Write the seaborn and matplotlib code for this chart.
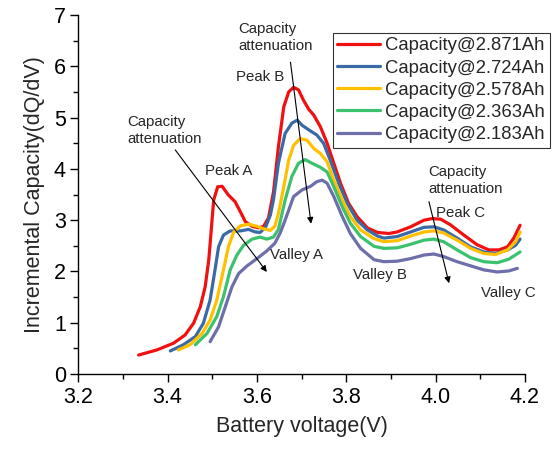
import numpy as np
import pandas as pd
import matplotlib
matplotlib.use("Agg")
import matplotlib.pyplot as plt
import seaborn as sns
from matplotlib.ticker import MultipleLocator
from matplotlib.lines import Line2D

# ---- data ----
labels = ["Capacity@2.871Ah", "Capacity@2.724Ah", "Capacity@2.578Ah",
          "Capacity@2.363Ah", "Capacity@2.183Ah"]
colors = ["#F01010", "#3A6AA6", "#FFC000", "#3CC26E", "#6E6EAA"]

v_red = [3.335, 3.376, 3.413, 3.439, 3.458, 3.473, 3.484, 3.492, 3.497, 3.503, 3.512, 3.522,
         3.536, 3.551, 3.563, 3.574, 3.589, 3.604, 3.615, 3.626, 3.637, 3.648, 3.660, 3.671,
         3.682, 3.693, 3.704, 3.716, 3.727, 3.742, 3.757, 3.772, 3.787, 3.805, 3.824, 3.847,
         3.870, 3.895, 3.914, 3.944, 3.974, 3.992, 4.011, 4.033, 4.063, 4.093, 4.119, 4.142,
         4.161, 4.175, 4.189]
y_red = [0.37, 0.47, 0.60, 0.76, 0.99, 1.31, 1.70, 2.22, 2.74, 3.39, 3.65, 3.66,
         3.49, 3.36, 3.16, 2.97, 2.88, 2.85, 2.88, 3.05, 3.55, 4.43, 5.21, 5.50,
         5.59, 5.54, 5.34, 5.16, 5.05, 4.82, 4.50, 4.11, 3.72, 3.33, 3.07, 2.85,
         2.76, 2.74, 2.77, 2.87, 3.00, 3.03, 3.02, 2.91, 2.71, 2.52, 2.42, 2.42,
         2.48, 2.65, 2.90]

v_blue = [3.406, 3.435, 3.462, 3.480, 3.495, 3.506, 3.514, 3.525, 3.540, 3.563, 3.581, 3.596,
          3.607, 3.619, 3.630, 3.637, 3.648, 3.663, 3.678, 3.690, 3.701, 3.716, 3.734, 3.749,
          3.764, 3.783, 3.802, 3.824, 3.847, 3.870, 3.884, 3.914, 3.944, 3.974, 3.996, 4.018,
          4.048, 4.078, 4.108, 4.134, 4.161, 4.179, 4.189]
y_blue = [0.45, 0.57, 0.73, 0.99, 1.44, 2.03, 2.48, 2.71, 2.79, 2.79, 2.82, 2.77,
          2.76, 2.86, 3.10, 3.40, 4.11, 4.69, 4.89, 4.95, 4.85, 4.76, 4.66, 4.50,
          4.17, 3.72, 3.33, 3.00, 2.81, 2.69, 2.65, 2.68, 2.77, 2.86, 2.87, 2.81,
          2.65, 2.48, 2.38, 2.35, 2.42, 2.51, 2.63]

v_yellow = [3.424, 3.450, 3.477, 3.495, 3.510, 3.525, 3.536, 3.548, 3.563, 3.581, 3.600, 3.615,
            3.630, 3.640, 3.648, 3.660, 3.671, 3.682, 3.697, 3.712, 3.727, 3.742, 3.757, 3.772,
            3.791, 3.809, 3.832, 3.862, 3.884, 3.914, 3.944, 3.974, 3.996, 4.018, 4.048, 4.078,
            4.108, 4.134, 4.161, 4.179, 4.189]
y_yellow = [0.47, 0.57, 0.79, 1.05, 1.44, 2.03, 2.48, 2.77, 2.89, 2.92, 2.88, 2.83,
            2.80, 2.88, 3.13, 3.65, 4.17, 4.46, 4.59, 4.56, 4.40, 4.30, 4.14, 3.78,
            3.39, 3.07, 2.81, 2.64, 2.58, 2.60, 2.69, 2.77, 2.79, 2.75, 2.61, 2.45,
            2.35, 2.33, 2.42, 2.58, 2.77]

v_green = [3.462, 3.488, 3.510, 3.525, 3.540, 3.555, 3.570, 3.589, 3.607, 3.622, 3.637, 3.648,
           3.663, 3.678, 3.693, 3.708, 3.723, 3.742, 3.757, 3.772, 3.791, 3.809, 3.832, 3.862,
           3.884, 3.914, 3.944, 3.974, 3.996, 4.018, 4.048, 4.078, 4.108, 4.138, 4.164, 4.189]
y_green = [0.57, 0.79, 1.12, 1.51, 2.03, 2.32, 2.51, 2.63, 2.67, 2.63, 2.67, 2.82,
           3.39, 3.85, 4.11, 4.18, 4.11, 4.03, 3.94, 3.65, 3.26, 2.94, 2.68, 2.49,
           2.45, 2.46, 2.53, 2.61, 2.63, 2.58, 2.42, 2.27, 2.19, 2.17, 2.24, 2.38]

v_purple = [3.495, 3.514, 3.529, 3.544, 3.559, 3.578, 3.600, 3.622, 3.640, 3.652, 3.663, 3.682,
            3.701, 3.720, 3.734, 3.746, 3.757, 3.772, 3.791, 3.809, 3.832, 3.862, 3.884, 3.914,
            3.944, 3.974, 3.996, 4.018, 4.048, 4.078, 4.108, 4.138, 4.164, 4.183]
y_purple = [0.63, 0.92, 1.31, 1.70, 1.96, 2.11, 2.25, 2.40, 2.55, 2.75, 3.00, 3.46,
            3.59, 3.66, 3.75, 3.78, 3.72, 3.46, 3.07, 2.74, 2.45, 2.23, 2.19, 2.20,
            2.25, 2.32, 2.34, 2.29, 2.19, 2.11, 2.03, 1.99, 2.01, 2.06]

xs = [v_red, v_blue, v_yellow, v_green, v_purple]
ys = [y_red, y_blue, y_yellow, y_green, y_purple]

frames = []
for lab, vv, yy in zip(labels, xs, ys):
    frames.append(pd.DataFrame({"V": vv, "IC": yy, "series": lab}))
df = pd.concat(frames, ignore_index=True)

# ---- style ----
sns.set_style("ticks")
plt.rcParams["font.family"] = ["Liberation Sans", "DejaVu Sans"]

fig = plt.figure(figsize=(5.57, 4.49), dpi=100)
ax = fig.add_axes([0.1406, 0.167, 0.8019, 0.7996])

sns.lineplot(data=df, x="V", y="IC", hue="series", hue_order=labels,
             palette=colors, sort=False, estimator=None, units="series",
             linewidth=2.3, ax=ax, legend=False)
for ln in ax.get_lines():
    ln.set_solid_joinstyle("round")
    ln.set_solid_capstyle("round")

ax.set_xlim(3.2, 4.2)
ax.set_ylim(0, 7)
ax.xaxis.set_major_locator(MultipleLocator(0.2))
ax.xaxis.set_minor_locator(MultipleLocator(0.1))
ax.yaxis.set_major_locator(MultipleLocator(1))
ax.yaxis.set_minor_locator(MultipleLocator(0.5))
ax.set_xticklabels([f"{t:.1f}" for t in ax.get_xticks()])
ax.tick_params(axis="both", which="major", direction="out", length=6, width=1,
               labelsize=15.5, pad=3, colors="black")
ax.tick_params(axis="both", which="minor", direction="out", length=3.5, width=1, colors="black")
for s in ["top", "right"]:
    ax.spines[s].set_visible(False)
for s in ["left", "bottom"]:
    ax.spines[s].set_linewidth(1)
    ax.spines[s].set_color("black")

ax.set_xlabel("Battery voltage(V)", fontsize=15.5, labelpad=6)
ax.set_ylabel("Incremental Capacity(dQ/dV)", fontsize=15.5, labelpad=6)

# legend
handles = [Line2D([0], [0], color=c, lw=2.3) for c in colors]
leg = fig.legend(handles, labels, loc="upper right", bbox_to_anchor=(0.987, 0.927),
                 fontsize=13.3, frameon=True, fancybox=False, edgecolor="black",
                 handlelength=2.3, handletextpad=0.3, labelspacing=0.28,
                 borderpad=0.25, borderaxespad=0.0)
leg.get_frame().set_linewidth(0.8)

# annotations
afs = 10.8
ax.text(3.558, 6.86, "Capacity\nattenuation", fontsize=afs, ha="left", va="top", linespacing=1.25)
ax.text(3.309, 5.05, "Capacity\nattenuation", fontsize=afs, ha="left", va="top", linespacing=1.25)
ax.text(3.984, 4.07, "Capacity\nattenuation", fontsize=afs, ha="left", va="top", linespacing=1.25)
ax.text(3.607, 5.79, "Peak B", fontsize=afs, ha="center", va="center")
ax.text(3.536, 3.96, "Peak A", fontsize=afs, ha="center", va="center")
ax.text(3.688, 2.32, "Valley A", fontsize=afs, ha="center", va="center")
ax.text(4.056, 3.14, "Peak C", fontsize=afs, ha="center", va="center")
ax.text(3.876, 1.93, "Valley B", fontsize=afs, ha="center", va="center")
ax.text(4.163, 1.58, "Valley C", fontsize=afs, ha="center", va="center")

arrowprops = dict(arrowstyle="-|>", color="black", lw=0.8, mutation_scale=9, shrinkA=0, shrinkB=0)
ax.annotate("", xy=(3.721, 2.93), xytext=(3.675, 6.08), arrowprops=arrowprops)
ax.annotate("", xy=(3.622, 1.99), xytext=(3.417, 4.37), arrowprops=arrowprops)
ax.annotate("", xy=(4.030, 1.77), xytext=(3.985, 3.36), arrowprops=arrowprops)

fig.savefig("out.png", dpi=100)
